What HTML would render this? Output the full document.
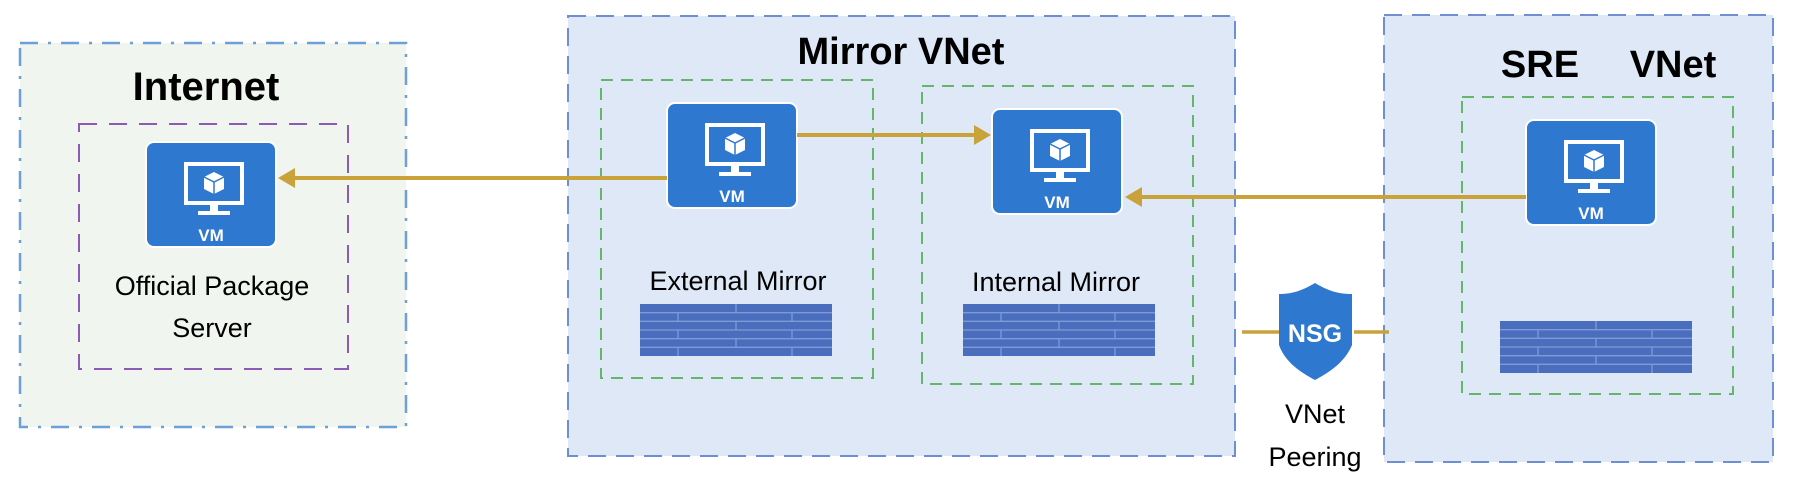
<!DOCTYPE html>
<html><head><meta charset="utf-8"><style>
html,body{margin:0;padding:0;background:#fff;}
svg{display:block;font-family:"Liberation Sans",sans-serif;}
</style></head><body>
<svg width="1819" height="497" viewBox="0 0 1819 497" xmlns="http://www.w3.org/2000/svg">
<defs>
<g id="vm">
  <rect x="0" y="0" width="130" height="105" rx="8" fill="#2f78d0" stroke="#fff" stroke-width="2"/>
  <rect x="40" y="22" width="56" height="39" fill="none" stroke="#fff" stroke-width="4"/>
  <rect x="64" y="61" width="8" height="9" fill="#fff"/>
  <rect x="52" y="69" width="32" height="4" fill="#fff"/>
  <polygon points="68,30 78,35 78,47 68,52 58,47 58,35" fill="#fff"/>
  <polyline points="58,35 68,40 78,35" fill="none" stroke="#2f78d0" stroke-width="1.5"/>
  <line x1="68" y1="40" x2="68" y2="52" stroke="#2f78d0" stroke-width="1.5"/>
  <text x="65" y="99" text-anchor="middle" font-size="17" font-weight="bold" fill="#fff">VM</text>
</g>
<g id="fw">
  <rect x="0" y="0" width="192" height="52" fill="#4a6dbd"/>
  <g stroke="#7f9ad6" stroke-width="1.3">
    <line x1="0" y1="8.7" x2="192" y2="8.7"/><line x1="0" y1="17.3" x2="192" y2="17.3"/>
    <line x1="0" y1="26" x2="192" y2="26"/><line x1="0" y1="34.7" x2="192" y2="34.7"/>
    <line x1="0" y1="43.3" x2="192" y2="43.3"/>
    <line x1="96" y1="0" x2="96" y2="8.7"/><line x1="38" y1="8.7" x2="38" y2="17.3"/><line x1="152" y1="8.7" x2="152" y2="17.3"/>
    <line x1="96" y1="17.3" x2="96" y2="26"/><line x1="38" y1="26" x2="38" y2="34.7"/><line x1="152" y1="26" x2="152" y2="34.7"/>
    <line x1="96" y1="34.7" x2="96" y2="43.3"/><line x1="38" y1="43.3" x2="38" y2="52"/><line x1="152" y1="43.3" x2="152" y2="52"/>
  </g>
</g>
</defs>

<!-- Internet -->
<rect x="20" y="43" width="386" height="384" fill="#f0f6ef" stroke="#6f9fd8" stroke-width="2.5" stroke-dasharray="18,10,3,10"/>
<text x="206" y="100" text-anchor="middle" font-size="40" font-weight="bold" fill="#000">Internet</text>
<rect x="79" y="124" width="269" height="245" fill="none" stroke="#8d5bb5" stroke-width="2" stroke-dasharray="18,12"/>
<use href="#vm" x="146" y="142"/>
<text x="212" y="295" text-anchor="middle" font-size="27" fill="#000">Official Package</text>
<text x="212" y="337" text-anchor="middle" font-size="27" fill="#000">Server</text>

<!-- Mirror VNet -->
<rect x="568" y="16" width="667" height="440" fill="#dee8f6" stroke="#6f8fd0" stroke-width="2" stroke-dasharray="18,10"/>
<text x="901" y="64" text-anchor="middle" font-size="38" font-weight="bold" fill="#000">Mirror VNet</text>
<rect x="601" y="80" width="272" height="298" fill="none" stroke="#63b66a" stroke-width="2" stroke-dasharray="12,8"/>
<rect x="922" y="86" width="271" height="298" fill="none" stroke="#63b66a" stroke-width="2" stroke-dasharray="12,8"/>
<use href="#vm" x="667" y="103"/>
<use href="#vm" x="992" y="109"/>
<text x="738" y="290" text-anchor="middle" font-size="27" fill="#000">External Mirror</text>
<text x="1056" y="291" text-anchor="middle" font-size="27" fill="#000">Internal Mirror</text>
<use href="#fw" x="640" y="304"/>
<use href="#fw" x="963" y="304"/>

<!-- SRE VNet -->
<rect x="1384" y="15" width="389" height="447" fill="#dee8f6" stroke="#6f8fd0" stroke-width="2" stroke-dasharray="18,10"/>
<text x="1540" y="77" text-anchor="middle" font-size="38" font-weight="bold" fill="#000">SRE</text>
<text x="1673" y="77" text-anchor="middle" font-size="38" font-weight="bold" fill="#000">VNet</text>
<rect x="1462" y="97" width="271" height="297" fill="none" stroke="#63b66a" stroke-width="2" stroke-dasharray="12,8"/>
<use href="#vm" x="1526" y="120"/>
<use href="#fw" x="1500" y="321"/>

<!-- NSG -->
<line x1="1242" y1="332" x2="1279" y2="332" stroke="#c9a23a" stroke-width="3.5"/>
<line x1="1354" y1="332" x2="1389" y2="332" stroke="#c9a23a" stroke-width="3.5"/>
<path d="M1315,283 C1300,292 1290,294 1279,294 L1279,345 C1285,362 1300,372 1315,380 C1330,372 1345,362 1352,345 L1352,294 C1340,294 1330,292 1315,283 Z" fill="#2f78d0"/>
<text x="1315" y="342" text-anchor="middle" font-size="25" font-weight="bold" fill="#fff">NSG</text>
<text x="1315" y="423" text-anchor="middle" font-size="27" fill="#000">VNet</text>
<text x="1315" y="466" text-anchor="middle" font-size="27" fill="#000">Peering</text>

<!-- Arrows -->
<g stroke="#c9a23a" stroke-width="4" fill="#c9a23a">
  <line x1="667" y1="178" x2="292" y2="178"/>
  <polygon points="278,178 295,168 295,188" stroke="none"/>
  <line x1="797" y1="135" x2="976" y2="135"/>
  <polygon points="991,135 974,125 974,145" stroke="none"/>
  <line x1="1526" y1="197" x2="1140" y2="197"/>
  <polygon points="1125,197 1142,187 1142,207" stroke="none"/>
</g>
</svg>
</body></html>
